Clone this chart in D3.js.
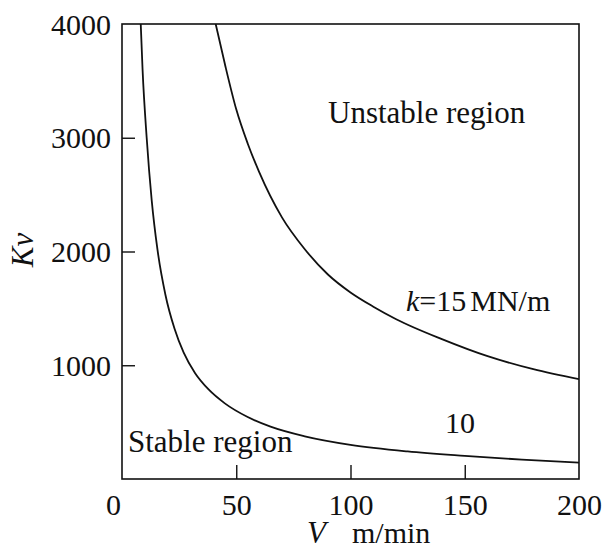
<!DOCTYPE html>
<html>
<head>
<meta charset="utf-8">
<script src="https://cdn.jsdelivr.net/npm/d3@7"></script>
<style>
  body { margin: 0; background: #fff; }
</style>
</head>
<body>
<div id="chart"></div>
<script>
// data
var xTicks = [0, 50, 100, 150, 200];
var yTicks = [1000, 2000, 3000, 4000];

// k = 10 MN/m
var curve10V  = [8.2, 9, 10.8, 13, 15.5, 19, 23, 27, 32, 38, 45, 55, 65, 80, 100, 125, 150, 175, 200];
var curve10Kv = [4000, 3600, 3000, 2450, 2020, 1620, 1320, 1110, 930, 785, 665, 545, 460, 375, 300, 242, 203, 170, 144];

// k = 15 MN/m
var curve15V  = [41, 45, 50, 55, 60, 70, 80, 90, 100, 110, 120, 140, 160, 180, 200];
var curve15Kv = [4000, 3650, 3250, 2950, 2700, 2300, 2020, 1800, 1640, 1515, 1405, 1230, 1080, 965, 877];

var svgWidth = 603;
var svgHeight = 550;
var serif = '"Liberation Serif"';

var svg = d3.select("#chart")
  .append("svg")
  .attr("width", svgWidth)
  .attr("height", svgHeight);

var xScale = d3.scaleLinear().domain([0, 200]).range([122, 579]);
var yScale = d3.scaleLinear().domain([0, 4000]).range([479, 24]);

// frame
svg.append("rect")
  .attr("x", xScale(0))
  .attr("y", yScale(4000))
  .attr("width", xScale(200) - xScale(0))
  .attr("height", yScale(0) - yScale(4000))
  .attr("fill", "none")
  .attr("stroke", "#111")
  .attr("stroke-width", 1.6);

// axes, ticks point inward
var bottomAxis = d3.axisBottom(xScale)
  .tickValues(xTicks)
  .tickSize(-14)
  .tickPadding(15)
  .tickFormat(d3.format("d"));

var leftAxis = d3.axisLeft(yScale)
  .tickValues(yTicks)
  .tickSize(-13)
  .tickPadding(11)
  .tickFormat(d3.format("d"));

var xAxisG = svg.append("g")
  .attr("transform", `translate(0, ${yScale(0)})`)
  .call(bottomAxis);

var yAxisG = svg.append("g")
  .attr("transform", `translate(${xScale(0)}, 0)`)
  .call(leftAxis);

[xAxisG, yAxisG].forEach(g => {
  g.attr("font-family", serif).attr("font-size", 30);
  g.select(".domain").remove();
  g.selectAll("line").attr("stroke", "#111").attr("stroke-width", 1.4);
  g.selectAll("text")
    .style("font-family", serif)
    .style("font-size", "30px")
    .attr("fill", "#111");
});
yAxisG.selectAll(".tick text").attr("dy", "0.34em");
// edge ticks sit on the frame
xAxisG.selectAll(".tick line").filter(d => d === 0 || d === 200).remove();
yAxisG.selectAll(".tick line").filter(d => d === 4000).remove();
xAxisG.selectAll(".tick text").filter(d => d === 0).attr("dx", -9);

// curves
svg.append("clipPath").attr("id", "plot")
  .append("rect")
  .attr("x", xScale(0))
  .attr("y", yScale(4000))
  .attr("width", xScale(200) - xScale(0))
  .attr("height", yScale(0) - yScale(4000));

var line = d3.line()
  .x(d => xScale(d[0]))
  .y(d => yScale(d[1]))
  .curve(d3.curveMonotoneX);

var curves = [
  d3.zip(curve10V, curve10Kv),
  d3.zip(curve15V, curve15Kv)
];

svg.append("g")
  .attr("clip-path", "url(#plot)")
  .selectAll("path")
  .data(curves)
  .enter()
  .append("path")
  .attr("d", line)
  .attr("fill", "none")
  .attr("stroke", "#111")
  .attr("stroke-width", 1.8);

// labels
function label(x, y, size, str) {
  return svg.append("text")
    .attr("x", x)
    .attr("y", y)
    .attr("fill", "#111")
    .style("font-family", serif)
    .style("font-size", size + "px")
    .text(str);
}

label(328, 123, 31, "Unstable region");
label(128, 452, 31, "Stable region");
label(445, 433, 30, "10");

var kLabel = label(406, 311, 30, null);
kLabel.append("tspan").style("font-style", "italic").text("k");
kLabel.append("tspan").text("=15");
kLabel.append("tspan").attr("dx", 4).text("MN/m");

// axis titles
label(0, 0, 31, "Kv")
  .attr("transform", "translate(33, 250) rotate(-90)")
  .attr("text-anchor", "middle")
  .style("font-style", "italic");

label(307, 543, 31, "V").style("font-style", "italic");
label(352, 543, 30, "m/min");
</script>
</body>
</html>
